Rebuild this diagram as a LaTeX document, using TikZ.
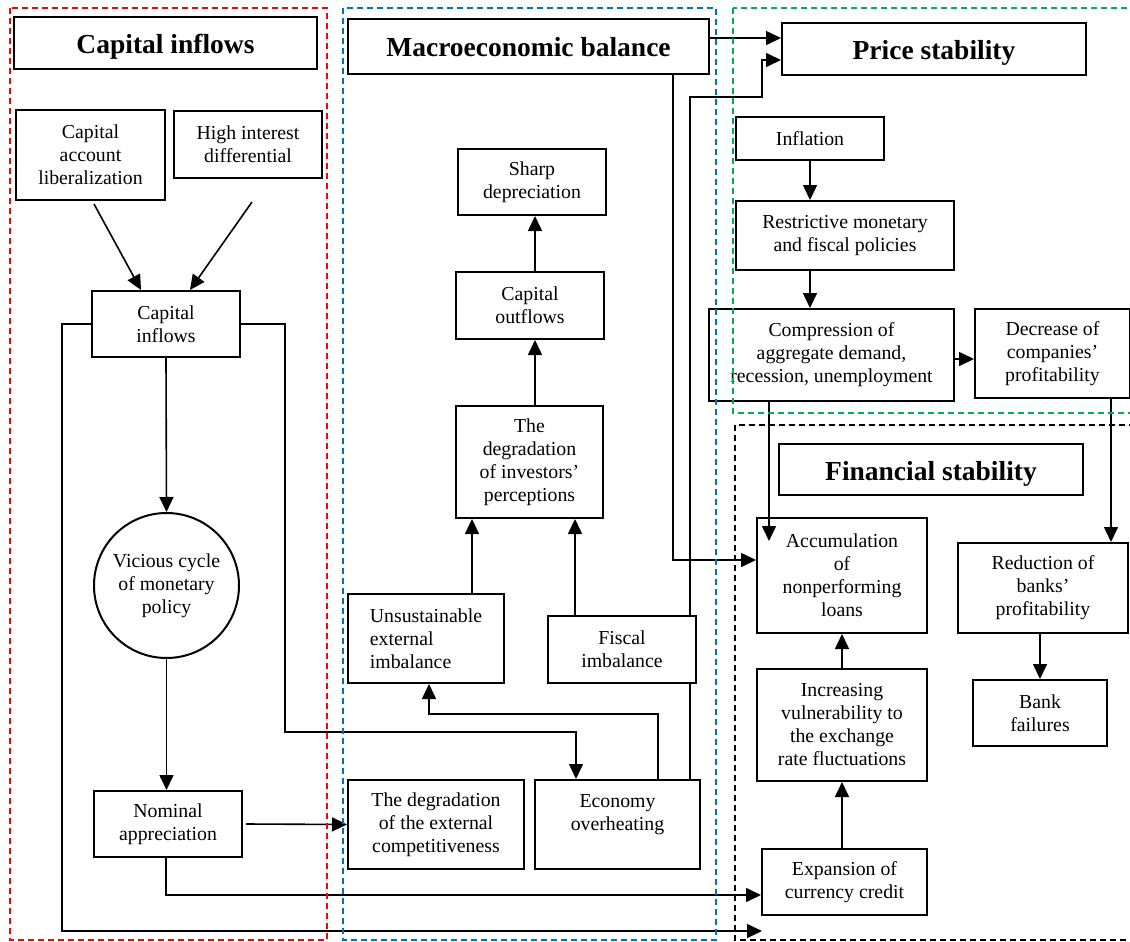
\documentclass[tikz,border=0pt]{standalone}
\usepackage{fontspec}
\setmainfont{Liberation Serif}
\usetikzlibrary{arrows.meta,calc}
\pgfdeclarelayer{background}
\pgfsetlayers{background,main}
\definecolor{fred}{RGB}{255,0,0}
\definecolor{fblue}{RGB}{0,112,192}
\definecolor{fgreen}{RGB}{0,176,80}
\tikzset{
  box/.style={draw, line width=2pt, fill=white, align=center, inner sep=0pt,
              font=\fontsize{19.8}{23}\selectfont},
  ttl/.style={box, font=\fontsize{27.5}{32}\selectfont\bfseries, text height=21pt, text depth=0pt},
  arr/.style={line width=1.6pt, -{Triangle[length=15pt,width=14pt]}},
  frame/.style={line width=1.5pt, dash pattern=on 6pt off 4pt},
}
\begin{document}
\begin{tikzpicture}[x=1pt,y=-1pt]
\useasboundingbox (0,0) rectangle (1130,942);

% titles
\node[ttl, minimum width=303pt, minimum height=52pt] (t1) at (165.5,43) {Capital inflows};
\node[ttl, minimum width=361pt, minimum height=55pt] (mb) at (528.5,46.5) {Macroeconomic balance};
\node[ttl, minimum width=304pt, minimum height=52pt] (ps) at (934,49) {Price stability};
\node[ttl, minimum width=304pt, minimum height=51pt] (fs) at (931,469.5) {Financial stability};

% capital inflows column
\node[box, minimum width=149pt, minimum height=90pt] (cal) at (90.5,155) {Capital\\account\\liberalization};
\node[box, minimum width=148pt, minimum height=67pt] (hid) at (248,144.5) {High interest\\differential};
\node[box, minimum width=148pt, minimum height=66pt] (ci) at (166,324) {Capital\\inflows};
\node[box, circle, minimum size=145pt] (vc) at (166.5,585.5) {Vicious cycle\\of monetary\\policy};
\node[box, minimum width=148pt, minimum height=66pt] (na) at (168,824) {Nominal\\appreciation};

% macroeconomic column
\node[box, minimum width=148pt, minimum height=66pt] (sd) at (532,182) {Sharp\\depreciation};
\node[box, minimum width=148pt, minimum height=67pt] (co) at (530,305.5) {Capital\\outflows};
\node[box, minimum width=147pt, minimum height=112pt] (dip) at (529.5,462) {The\\degradation\\of investors’\\perceptions};
\node[box, align=left, minimum width=156pt, minimum height=89pt] (uei) at (426,638.5) {Unsustainable\\external\\imbalance};
\node[box, minimum width=148pt, minimum height=67pt] (fi) at (622,649.5) {Fiscal\\imbalance};
\node[box, minimum width=176pt, minimum height=89pt] (dec) at (436,824.5) {The degradation\\of the external\\competitiveness};
\node[box, minimum width=165pt, minimum height=89pt] (eo) at (617.5,824.5) {Economy\\overheating\\\mbox{}};

% price stability
\node[box, minimum width=148pt, minimum height=43pt] (inf) at (810,138.5) {Inflation};
\node[box, minimum width=218pt, minimum height=69pt] (rmf) at (845,235.5) {Restrictive monetary\\and fiscal policies};
\node[box, minimum width=245pt, minimum height=92pt] (cad) at (831.5,355) {Compression of\\aggregate demand,\\recession, unemployment};
\node[box, minimum width=155pt, minimum height=89pt] (dcp) at (1052.5,353.5) {Decrease of\\companies’\\profitability};

% financial stability
\node[box, minimum width=170pt, minimum height=115pt] (anl) at (842,575.5) {Accumulation\\of\\nonperforming\\loans};
\node[box, minimum width=170pt, minimum height=90pt] (rbp) at (1043,588) {Reduction of\\banks’\\profitability};
\node[box, minimum width=134pt, minimum height=66pt] (bf) at (1040,713) {Bank\\failures};
\node[box, minimum width=170pt, minimum height=112pt] (ivr) at (842,725) {Increasing\\vulnerability to\\the exchange\\rate fluctuations};
\node[box, minimum width=165pt, minimum height=66pt] (ecc) at (844.5,882) {Expansion of\\currency credit};

% helper coordinates
\coordinate (xm) at (535,0);
\coordinate (x472) at (472,0);
\coordinate (x575) at (575,0);
\coordinate (x769) at (769,0);
\coordinate (x1111) at (1111,0);
\coordinate (b1) at (429,714);
\coordinate (b2) at (690,97);
\coordinate (b3) at (762,60);
\coordinate (k1) at (576,732);
\coordinate (e1) at (762,931);

% line behind the fiscal box
\begin{pgfonlayer}{background}
\draw[arr] ($(eo.north)+(72.5,0)$) -- (b2) -| (b3) -- (b3 -| ps.west);
\end{pgfonlayer}

% connectors
\draw[arr] ([xshift=3.5pt,yshift=-3pt]cal.south) -- ([xshift=-25pt]ci.north);
\draw[arr] ([xshift=4pt,yshift=-23pt]hid.south) -- ([xshift=24pt]ci.north);
\draw[arr] (ci.south) -- (vc.north);
\draw[arr] (vc.south) -- (vc.south |- na.north);
\draw[arr] ([xshift=3pt]na.east) -- (dec.west);
\draw[arr] ([xshift=-2pt]na.south) |- ([yshift=-13pt]ecc.west);
\draw[arr] (ci.west) -- ++(-29,0) |- (e1);
\draw[arr] (ci.east) -- ++(44,0) |- (k1) -- (k1 |- eo.north);

\draw[arr] (co.north -| xm) -- (sd.south -| xm);
\draw[arr] (dip.north -| xm) -- (co.south -| xm);
\draw[arr] (uei.north -| x472) -- (dip.south -| x472);
\draw[arr] (fi.north -| x575) -- (dip.south -| x575);
\draw[arr] ($(eo.north)+(40.5,0)$) |- (b1) -- (b1 |- uei.south);

\draw[arr] ($(mb.east)+(0,-8.5)$) coordinate (m1) -- (m1 -| ps.west);
\draw[arr] ($(mb.south)+(144.5,0)$) |- ([yshift=15.5pt]anl.west);

\draw[arr] (inf.south) -- (inf.south |- rmf.north);
\draw[arr] ([xshift=-35pt]rmf.south) coordinate (r1) -- (r1 |- cad.north);
\draw[arr] ([yshift=-4pt]cad.east) coordinate (c1) -- (c1 -| dcp.west);
\draw[arr] (cad.south -| x769) -- ++(0,139);
\draw[arr] (dcp.south -| x1111) -- (rbp.north -| x1111);
\draw[arr] (bf.north |- rbp.south) -- (bf.north);
\draw[arr] (ivr.north) -- (anl.south);
\draw[arr] (ivr.south |- ecc.north) -- (ivr.south);

% dashed frames
\draw[frame, fred] (10,8) rectangle (327,940);
\draw[frame, fblue] (343,8) rectangle (716,940);
\draw[frame, fgreen] (733,8) rectangle (1140,413);
\draw[frame, black] (735,425) rectangle (1140,940);
\end{tikzpicture}
\end{document}
